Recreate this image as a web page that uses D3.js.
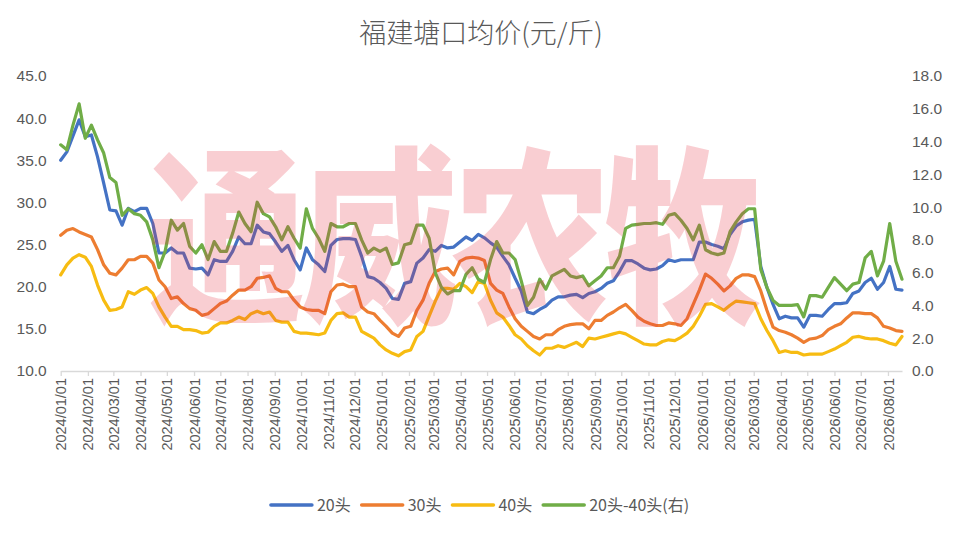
<!DOCTYPE html>
<html><head><meta charset="utf-8">
<script src="https://cdn.jsdelivr.net/npm/d3@7"></script>
<style>
body{margin:0;background:#fff;}
svg{display:block;font-family:"Noto Sans CJK SC","Noto Sans",sans-serif;}
</style>
</head><body>
<svg id="c" width="962" height="535"></svg>
<script>
// ---- data ----
const titleText = "福建塘口均价(元/斤)";
const watermarkText = "通威农牧";
const seriesNames = ["20头", "30头", "40头", "20头-40头(右)"];
const seriesColors = ["#4472C4", "#ED7D31", "#F7BC12", "#70AD47"];
const startDate = "2024-01-01";   // weekly observations
const head20 = [35.0,36.0,37.9,39.8,37.8,38.0,35.4,32.3,29.1,29.0,27.3,29.3,28.9,29.3,29.3,27.5,24.0,24.0,24.6,24.0,
  24.0,22.2,22.1,22.2,21.4,23.2,23.0,23.0,24.2,25.9,25.1,25.1,27.3,26.5,26.3,25.3,24.2,24.9,23.2,22.0,
  24.6,23.2,22.6,21.8,24.9,25.6,25.7,25.7,25.6,23.6,21.2,21.0,20.5,19.8,18.6,18.5,20.4,20.6,22.8,23.4,
  24.4,24.2,24.9,24.6,24.7,25.3,25.9,25.5,26.2,25.8,25.2,24.7,23.6,22.6,21.0,19.5,17.0,16.8,17.3,17.7,
  18.4,18.8,18.8,19.0,19.1,18.7,19.2,19.4,19.8,20.4,20.7,21.8,23.1,23.1,22.7,22.2,22.0,22.1,22.5,23.2,
  23.0,23.2,23.2,23.2,25.3,25.3,25.0,24.8,24.5,26.2,27.2,27.7,27.9,28.0,22.4,19.9,17.9,16.2,16.5,16.3,
  16.3,15.2,16.6,16.6,16.5,17.3,18.0,18.0,18.1,19.2,19.5,20.5,21.0,19.7,20.5,22.4,19.7,19.6];
const head30 = [26.1,26.7,26.9,26.5,26.2,25.9,24.4,22.6,21.6,21.4,22.2,23.2,23.2,23.6,23.6,22.8,20.8,20.0,18.6,18.8,
  18.0,17.4,17.2,16.6,16.8,17.4,18.0,18.3,19.0,19.6,19.6,20.0,21.0,21.1,21.3,19.8,19.4,19.4,18.4,17.6,
  17.3,17.2,17.2,16.8,19.4,20.2,20.3,20.0,20.0,17.6,17.0,16.8,16.0,15.3,14.5,14.1,15.1,15.3,17.2,18.4,
  20.4,21.8,22.1,22.2,21.4,23.0,23.4,23.5,23.4,23.1,20.4,19.6,19.2,17.6,16.2,15.3,14.7,14.1,13.8,14.3,
  14.3,14.9,15.3,15.5,15.6,15.6,15.0,16.0,16.0,16.6,17.0,17.5,17.9,17.2,16.4,15.9,15.6,15.4,15.4,15.7,
  15.6,15.4,16.2,17.9,19.6,21.5,21.0,20.3,19.5,20.1,21.0,21.4,21.4,21.2,19.5,17.2,15.2,14.8,14.6,14.3,
  13.9,13.4,13.8,13.9,14.2,14.9,15.3,15.6,16.3,16.9,16.9,16.8,16.8,16.3,15.3,15.1,14.8,14.7];
const head40 = [21.4,22.6,23.4,23.8,23.5,22.4,20.2,18.4,17.2,17.3,17.6,19.4,19.1,19.6,19.9,19.2,17.6,16.4,15.3,15.3,
  14.9,14.9,14.8,14.5,14.6,15.3,15.7,15.7,16.0,16.4,16.1,16.8,17.1,16.8,17.0,16.0,15.8,15.8,14.7,14.5,
  14.5,14.4,14.3,14.5,16.0,16.8,16.9,16.4,16.4,14.7,14.3,13.9,13.1,12.5,12.1,11.8,12.3,12.5,14.1,14.7,
  16.5,18.3,19.8,19.8,19.7,20.4,20.0,19.3,20.6,20.4,18.4,16.9,16.4,15.4,14.3,13.8,13.0,12.4,11.9,12.7,
  12.7,13.0,12.8,13.1,13.4,12.9,13.9,13.8,14.0,14.2,14.4,14.6,14.4,14.0,13.6,13.2,13.1,13.1,13.5,13.7,
  13.6,14.0,14.5,15.3,16.5,17.9,18.0,17.6,17.2,17.8,18.3,18.2,18.1,18.0,16.2,14.8,13.6,12.2,12.4,12.2,
  12.2,11.9,12.0,12.0,12.0,12.3,12.6,13.0,13.4,14.0,14.1,13.9,13.8,13.8,13.6,13.3,13.1,14.1];
const spread20_40 = [13.8,13.5,15.0,16.3,14.2,15.0,14.1,13.3,11.8,11.5,9.5,9.9,9.6,9.5,9.1,8.0,6.3,7.3,9.2,8.6,
  9.0,7.6,7.2,7.7,6.8,7.9,7.3,7.3,8.4,9.7,9.0,8.5,10.3,9.6,9.4,8.8,8.0,8.8,8.1,7.5,
  9.9,8.7,8.1,7.3,9.0,8.8,8.8,9.0,9.0,8.0,7.2,7.5,7.3,7.5,6.5,6.6,7.7,7.8,8.9,8.9,
  8.1,6.0,5.1,4.7,4.9,4.9,5.9,6.3,5.6,5.4,6.8,7.9,7.2,7.2,6.8,5.5,4.0,4.5,5.6,5.0,
  5.8,6.0,6.2,5.8,5.7,5.8,5.2,5.5,5.8,6.3,6.3,7.0,8.7,8.9,8.95,9.0,9.0,9.05,8.95,9.5,
  9.6,9.2,8.7,8.0,8.9,7.4,7.2,7.1,7.2,8.5,9.1,9.6,9.9,9.9,6.2,5.1,4.3,4.0,4.0,4.0,
  4.05,3.3,4.6,4.6,4.5,5.1,5.7,5.3,4.9,5.3,5.4,6.9,7.3,5.8,6.7,9.0,6.7,5.6];
const leftTicks = [10, 15, 20, 25, 30, 35, 40, 45];
const rightTicks = [0, 2, 4, 6, 8, 10, 12, 14, 16, 18];

// ---- chart ----
const svg = d3.select("#c");
const plot = {left: 60.7, right: 902, top: 76, bottom: 371};
const textColor = "#595959";

const t0 = d3.timeParse("%Y-%m-%d")(startDate);
const dates = head20.map((_, i) => d3.timeDay.offset(t0, i * 7));

const x = d3.scaleTime().domain([dates[0], dates[dates.length - 1]]).range([plot.left, plot.right]);
const yL = d3.scaleLinear().domain([10, 45]).range([plot.bottom, plot.top]);
const yR = d3.scaleLinear().domain([0, 18]).range([plot.bottom, plot.top]);

// title
svg.append("text").attr("x", 481).attr("y", 43).attr("text-anchor", "middle")
  .attr("font-size", 27).attr("font-weight", 300).attr("fill", textColor).text(titleText);

// left axis labels
const gL = svg.append("g").attr("transform", `translate(${plot.left},0)`)
  .call(d3.axisLeft(yL).tickValues(leftTicks).tickFormat(d3.format(".1f")).tickSize(0).tickPadding(14));
gL.select(".domain").remove();
gL.selectAll("text").attr("font-size", 15.5).attr("fill", textColor).attr("font-family", null);

// right axis labels
const gR = svg.append("g").attr("transform", `translate(${plot.right},0)`)
  .call(d3.axisRight(yR).tickValues(rightTicks).tickFormat(d3.format(".1f")).tickSize(0).tickPadding(10));
gR.select(".domain").remove();
gR.selectAll("text").attr("font-size", 15.5).attr("fill", textColor).attr("font-family", null);

// bottom axis
const months = d3.timeMonth.range(d3.timeMonth.ceil(dates[0]), d3.timeDay.offset(dates[dates.length - 1], 1));
const gB = svg.append("g").attr("transform", `translate(0,${plot.bottom})`)
  .call(d3.axisBottom(x).tickValues(months).tickFormat(d3.timeFormat("%Y/%m/%d")).tickSize(5).tickSizeOuter(0));
gB.select(".domain").attr("stroke", "#d9d9d9").attr("stroke-width", 1.3);
gB.selectAll(".tick line").attr("stroke", "#d9d9d9").attr("stroke-width", 1.3);
gB.selectAll("text").attr("font-size", 14.5).attr("fill", textColor).attr("font-family", null)
  .attr("text-anchor", "end").attr("transform", "rotate(-90)")
  .attr("x", -7).attr("y", 0).attr("dy", "0.35em");

// lines
const series = [
  {vals: head20, y: yL}, {vals: head30, y: yL}, {vals: head40, y: yL}, {vals: spread20_40, y: yR}
];
const line = (sc) => d3.line().x((d, i) => x(dates[i])).y(d => sc(d));
series.forEach((s, k) => {
  svg.append("path").datum(s.vals).attr("d", line(s.y)).attr("fill", "none")
    .attr("stroke", seriesColors[k]).attr("stroke-width", 3.2)
    .attr("stroke-linejoin", "round").attr("stroke-linecap", "round");
});

// watermark (on top, semi-transparent)
svg.append("text").attr("text-anchor", "middle")
  .attr("transform", "translate(452,308) scale(1,1.2)")
  .attr("font-size", 158).attr("font-weight", 900).attr("letter-spacing", -6)
  .attr("fill", "rgb(228,50,65)").attr("fill-opacity", 0.24).text(watermarkText);

// legend
const leg = svg.append("g");
let cx = 0;
seriesNames.forEach((n, k) => {
  const g = leg.append("g").attr("transform", `translate(${cx},0)`);
  g.append("line").attr("x1", 0).attr("x2", 41).attr("y1", 0).attr("y2", 0)
    .attr("stroke", seriesColors[k]).attr("stroke-width", 3.5).attr("stroke-linecap", "round");
  const t = g.append("text").attr("x", 46).attr("y", 0).attr("dy", "0.35em")
    .attr("font-size", 16).attr("fill", textColor).text(n);
  cx += 46 + t.node().getComputedTextLength() + 11;
});
const legW = cx - 11;
leg.attr("transform", `translate(${480 - legW / 2},505)`);
</script>
</body></html>
